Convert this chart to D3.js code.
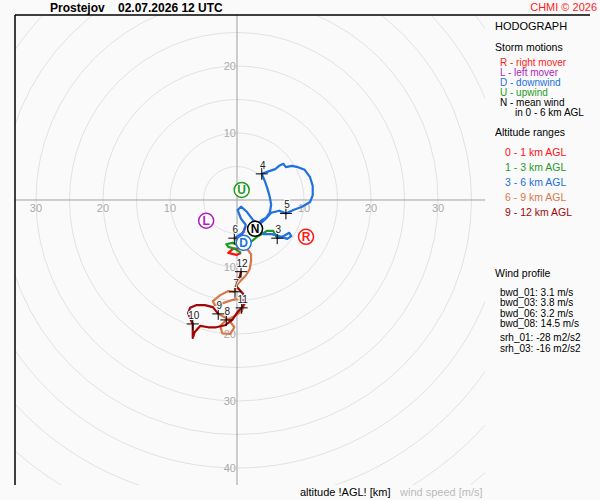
<!DOCTYPE html>
<html>
<head>
<meta charset="utf-8">
<script src="https://cdn.jsdelivr.net/npm/d3@7"></script>
<style>
  body { margin: 0; background: #fafafa; }
  svg { display: block; font-family: "Liberation Sans", Arial, sans-serif; }
</style>
</head>
<body>
<svg id="chart" width="600" height="500"></svg>
<script>
// hodograph segments, [u, v] in m/s
var layer01 = [[1.3,-3.9],[1.0,-4.6],[0.6,-5.4],[1.0,-6.3],[0.7,-7.2],[-0.6,-7.3],[-1.3,-7.9],[-0.1,-8.2],[0.6,-7.9]];
var layer13 = [[0.6,-7.9],[-0.3,-7.3],[-1.3,-7.0],[-1.6,-6.6],[-0.7,-6.4],[0.4,-6.9],[1.6,-6.6],[2.4,-6.0],[3.1,-5.4],[3.7,-5.1],[4.5,-4.6],[5.4,-4.6],[6.0,-5.7]];
var layer36 = [[6.0,-5.7],[6.9,-5.4],[7.8,-4.9],[8.1,-5.4],[7.5,-5.8],[6.6,-5.5],[5.2,-5.1],[4.0,-5.1],[3.3,-4.8],[2.7,-4.3],
  [3.1,-3.6],[3.7,-3.0],[4.3,-2.7],[4.9,-1.9],[5.1,-0.7],[4.9,0.4],[4.6,1.5],[4.2,2.7],[3.7,3.9],
  [4.5,4.2],[5.7,4.6],[6.3,5.1],[6.9,5.4],[7.3,4.9],[8.2,5.1],[9.1,4.9],[10.1,4.5],[10.9,3.4],[11.3,2.1],[11.3,0.7],[10.9,-0.3],[9.7,-1.0],[8.4,-1.5],[7.3,-2.0],
  [6.3,-1.6],[5.1,-1.9],[4.3,-2.8],[3.4,-3.6],[2.4,-3.0],[1.5,-1.8],[0.6,-1.0],[0.1,-1.5],[0.6,-2.8],[1.3,-3.7],[1.0,-4.8],[0.1,-5.4],[-0.4,-5.7]];
var layer69 = [[-0.4,-5.7],[0.4,-6.4],[1.5,-7.3],[2.1,-8.1],[2.1,-9.1],[1.9,-10.3],[1.3,-11.3],[0.4,-12.2],[-0.3,-13.0],[-0.3,-13.7],
  [-1.3,-13.6],[-2.5,-14.2],[-3.6,-15.1],[-3.3,-15.7],[-2.1,-15.4],[-0.6,-14.9],[0.7,-14.6],[1.2,-15.4],[0.7,-16.6],[-0.3,-17.3],[-1.6,-17.9],
  [-2.5,-18.8],[-2.2,-19.9],[-1.0,-20.0],[-0.4,-19.0],[-1.3,-17.8],[-2.8,-17.0]];
var layer912 = [[-2.8,-17.0],[-3.6,-16.0],[-4.8,-15.7],[-6.1,-15.7],[-7.0,-16.1],[-7.3,-16.9],[-6.9,-17.9],[-6.6,-18.5],
  [-6.6,-19.6],[-6.6,-20.6],[-6.3,-19.7],[-5.5,-18.8],[-4.3,-19.0],[-3.1,-19.0],[-1.8,-18.7],[-0.7,-17.9],[0.1,-16.7],[0.7,-16.1],
  [1.2,-15.2],[0.9,-14.0],[0.0,-13.0],[-0.1,-12.1],[0.4,-11.5],[0.6,-10.7]];

var layerNames = ["0 - 1 km AGL", "1 - 3 km AGL", "3 - 6 km AGL", "6 - 9 km AGL", "9 - 12 km AGL"];
var layerColors = ["#ff1010", "#1f9a1f", "#2070e0", "#d8784a", "#a00808"];

// altitude marks (km) and their wind
var markHeights = [3, 4, 5, 6, 7, 8, 9, 10, 11, 12];
var markWinds = [[6.0,-5.7],[3.7,3.9],[7.3,-2.0],[-0.4,-5.7],[-0.3,-13.7],[-1.6,-17.9],[-2.8,-17.0],[-6.6,-18.5],[0.7,-16.1],[0.6,-10.7]];

// storm motions
var motionKeys = ["R", "L", "D", "U", "N"];
var motionNames = ["R - right mover", "L - left mover", "D - downwind", "U - upwind", "N - mean wind"];
var motionColors = ["#ff1a1a", "#b01cc0", "#2070e0", "#1f9a1f", "#000000"];
var motionWinds = [[10.3,-5.5],[-4.6,-3.1],[1.0,-6.4],[0.7,1.5],[2.7,-4.3]];

var ringSpeeds = [5,10,15,20,25,30,35,40,45,50,55,60];
var labelsX = [-30,-20,-10,10,20,30];
var labelsY = [20,10,-10,-20,-30,-40];

var profileNames = ["bwd_01: 3.1 m/s", "bwd_03: 3.8 m/s", "bwd_06: 3.2 m/s", "bwd_08: 14.5 m/s"];
var helicityNames = ["srh_01: -28 m2/s2", "srh_03: -16 m2/s2"];

var svg = d3.select("#chart");

var pLeft = 15, pTop = 15, pRight = 485, pBottom = 485;
var x = d3.scaleLinear().domain([-33.13, 37.01]).range([pLeft, pRight]);
var y = d3.scaleLinear().domain([27.61, -42.54]).range([pTop, pBottom]);

svg.append("defs").append("clipPath").attr("id", "plot")
  .append("rect").attr("x", pLeft).attr("y", pTop)
  .attr("width", pRight - pLeft).attr("height", pBottom - pTop);

var plot = svg.append("g").attr("clip-path", "url(#plot)");

// speed rings
plot.selectAll("circle.ring").data(ringSpeeds).enter().append("circle")
  .attr("class", "ring")
  .attr("cx", x(0)).attr("cy", y(0))
  .attr("r", function(d) { return x(d) - x(0); })
  .attr("fill", "none").attr("stroke", "#e2e2e2").attr("stroke-width", 1);

// axes through origin
plot.append("line").attr("x1", pLeft).attr("x2", pRight).attr("y1", y(0)).attr("y2", y(0))
  .attr("stroke", "#a0a0a0");
plot.append("line").attr("x1", x(0)).attr("x2", x(0)).attr("y1", pTop).attr("y2", pBottom)
  .attr("stroke", "#a0a0a0");

plot.selectAll("text.lx").data(labelsX).enter().append("text")
  .attr("class", "lx")
  .attr("x", function(d) { return x(d); }).attr("y", y(0) + 12)
  .attr("text-anchor", "middle").attr("font-size", 11).attr("fill", "#aaaaaa")
  .text(function(d) { return Math.abs(d); });

plot.selectAll("text.ly").data(labelsY).enter().append("text")
  .attr("class", "ly")
  .attr("x", x(0) - 1).attr("y", function(d) { return y(d) + 4; })
  .attr("text-anchor", "end").attr("font-size", 11).attr("fill", "#aaaaaa")
  .text(function(d) { return Math.abs(d); });

// hodograph
var line = d3.line().x(function(d) { return x(d[0]); }).y(function(d) { return y(d[1]); });
var layers = [layer01, layer13, layer36, layer69, layer912];
plot.selectAll("path.layer").data(layers).enter().append("path")
  .attr("class", "layer")
  .attr("d", line)
  .attr("fill", "none")
  .attr("stroke", function(d, i) { return layerColors[i]; })
  .attr("stroke-width", 2.2)
  .attr("stroke-linejoin", "round");

// altitude crosses
var marks = plot.selectAll("g.mark").data(markHeights).enter().append("g")
  .attr("class", "mark")
  .attr("transform", function(d, i) {
    return "translate(" + x(markWinds[i][0]) + "," + y(markWinds[i][1]) + ")";
  });
marks.append("path").attr("d", "M-6,0H6M0,-6V6").attr("stroke", "#000").attr("stroke-width", 1);
marks.append("text")
  .attr("x", 1).attr("y", -5)
  .attr("text-anchor", "middle").attr("font-size", 10).attr("fill", "#222")
  .attr("stroke", "#fafafa").attr("stroke-width", 2).attr("paint-order", "stroke")
  .text(function(d) { return d; });

// storm motion markers
var motions = plot.selectAll("g.motion").data(motionKeys).enter().append("g")
  .attr("class", "motion")
  .attr("transform", function(d, i) {
    return "translate(" + x(motionWinds[i][0]) + "," + y(motionWinds[i][1]) + ")";
  });
motions.append("circle").attr("r", 7.5)
  .attr("fill", "#ffffff")
  .attr("stroke", function(d, i) { return motionColors[i]; })
  .attr("stroke-width", 1.5);
motions.append("text")
  .attr("y", 4.5).attr("text-anchor", "middle")
  .attr("font-size", 12).attr("font-weight", "bold")
  .attr("fill", function(d, i) { return motionColors[i]; })
  .text(function(d) { return d; });

// frame
svg.append("line").attr("x1", pLeft).attr("x2", pLeft).attr("y1", pTop).attr("y2", pBottom)
  .attr("stroke", "#000").attr("stroke-width", 1.5);
svg.append("line").attr("x1", pLeft).attr("x2", 590).attr("y1", pTop).attr("y2", pTop)
  .attr("stroke", "#000").attr("stroke-width", 1.5);

// title
svg.append("text").attr("x", 50).attr("y", 12).attr("font-size", 12).attr("font-weight", "bold")
  .text("Prostejov");
svg.append("text").attr("x", 118).attr("y", 12).attr("font-size", 12).attr("font-weight", "bold")
  .text("02.07.2026 12 UTC");
svg.append("text").attr("x", 597).attr("y", 11).attr("font-size", 11).attr("text-anchor", "end")
  .attr("fill", "#ff1a1a").text("CHMI \u00a9 2026");

// legend
var legend = svg.append("g").attr("font-size", 10);
legend.append("text").attr("x", 495).attr("y", 30).attr("font-size", 11).text("HODOGRAPH");
legend.append("text").attr("x", 495).attr("y", 51).attr("font-size", 10.5).text("Storm motions");
legend.selectAll("text.sm").data(motionNames).enter().append("text")
  .attr("class", "sm")
  .attr("x", 500).attr("y", function(d, i) { return 65.5 + i * 10; })
  .attr("fill", function(d, i) { return motionColors[i]; })
  .text(function(d) { return d; });
legend.append("text").attr("x", 515).attr("y", 115.5).text("in 0 - 6 km AGL");

legend.append("text").attr("x", 495).attr("y", 136).attr("font-size", 10.5).text("Altitude ranges");
legend.selectAll("text.ar").data(layerNames).enter().append("text")
  .attr("class", "ar")
  .attr("x", 505).attr("y", function(d, i) { return 155.5 + i * 15; })
  .attr("font-size", 10.5)
  .attr("fill", function(d, i) { return layerColors[i]; })
  .text(function(d) { return d; });

legend.append("text").attr("x", 495).attr("y", 277).attr("font-size", 10.5).text("Wind profile");
legend.selectAll("text.bwd").data(profileNames).enter().append("text")
  .attr("class", "bwd")
  .attr("x", 500).attr("y", function(d, i) { return 295.5 + i * 10.6; })
  .text(function(d) { return d; });
legend.selectAll("text.srh").data(helicityNames).enter().append("text")
  .attr("class", "srh")
  .attr("x", 500).attr("y", function(d, i) { return 340.5 + i * 11.7; })
  .text(function(d) { return d; });

// bottom captions
svg.append("text").attr("x", 300).attr("y", 496).attr("font-size", 11).text("altitude !AGL! [km]");
svg.append("text").attr("x", 400).attr("y", 496).attr("font-size", 11).attr("fill", "#bbbbbb")
  .text("wind speed [m/s]");
</script>
</body>
</html>
